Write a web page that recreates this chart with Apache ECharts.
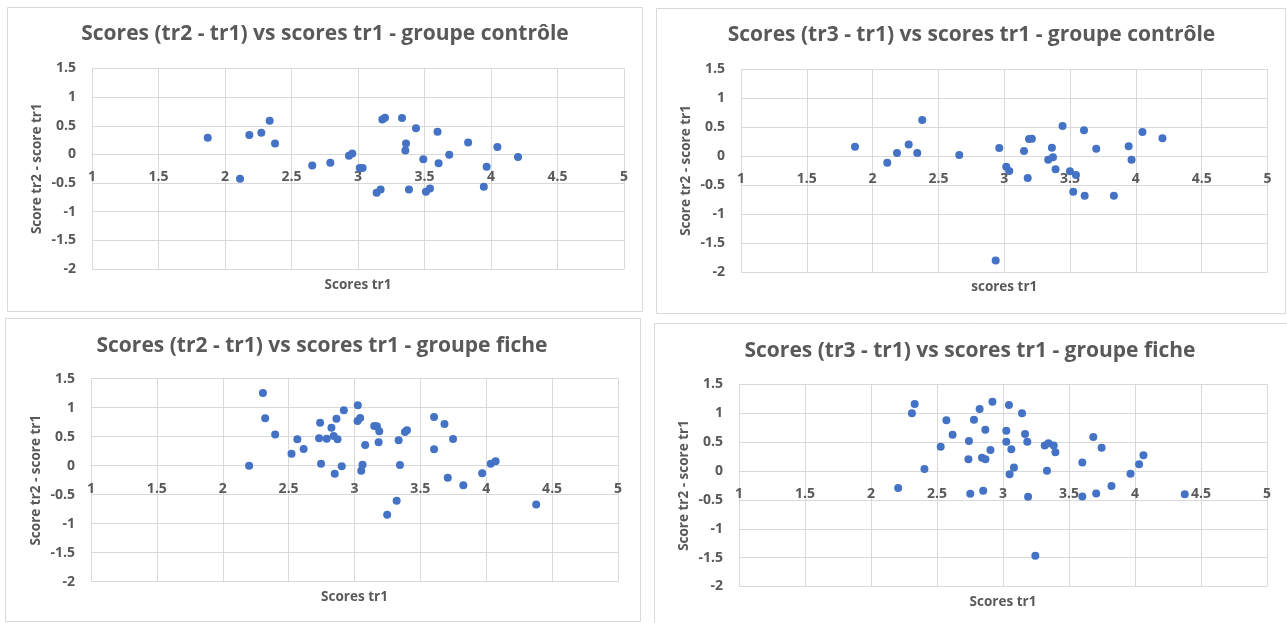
<!DOCTYPE html>
<html>
<head>
<meta charset="utf-8">
<script src="https://cdn.jsdelivr.net/npm/echarts@6/dist/echarts.min.js"></script>
<style>
html,body{margin:0;padding:0;background:#fff;}
#c{width:1287px;height:623px;}
</style>
</head>
<body>
<div id="c"></div>
<script>
// ---- Data ----
const titles = [
  'Scores (tr2 - tr1) vs scores tr1 - groupe contrôle',
  'Scores (tr3 - tr1) vs scores tr1 - groupe contrôle',
  'Scores (tr2 - tr1) vs scores tr1 - groupe fiche',
  'Scores (tr3 - tr1) vs scores tr1 - groupe fiche'
];
const xNames = ['Scores tr1', 'scores tr1', 'Scores tr1', 'Scores tr1'];
const yName = 'Score tr2 - score tr1';
const xTicks = ['1', '1.5', '2', '2.5', '3', '3.5', '4', '4.5', '5'];
const yTicks = ['-2', '-1.5', '-1', '-0.5', '0', '0.5', '1', '1.5'];

// Chart 1: contrôle, tr2 - tr1
const ctrlTr1_a = [1.87, 2.113, 2.183, 2.273, 2.336, 2.376, 2.656, 2.792, 2.932, 2.957, 3.013, 3.035, 3.14, 3.17, 3.183, 3.203, 3.331, 3.356, 3.361, 3.383, 3.436, 3.491, 3.511, 3.541, 3.598, 3.606, 3.686, 3.828, 3.946, 3.967, 4.048, 4.203];
const ctrlDiff21 = [0.29, -0.426, 0.337, 0.377, 0.587, 0.192, -0.192, -0.147, -0.024, 0.017, -0.239, -0.239, -0.67, -0.611, 0.611, 0.639, 0.634, 0.07, 0.192, -0.611, 0.459, -0.082, -0.653, -0.593, 0.394, -0.152, -0.007, 0.21, -0.565, -0.215, 0.129, -0.043];

// Chart 2: contrôle, tr3 - tr1
const ctrlTr1_b = [1.866, 2.111, 2.185, 2.274, 2.339, 2.377, 2.658, 2.935, 2.962, 3.015, 3.038, 3.15, 3.178, 3.188, 3.21, 3.334, 3.362, 3.37, 3.39, 3.443, 3.499, 3.524, 3.545, 3.606, 3.611, 3.699, 3.833, 3.945, 3.967, 4.05, 4.202];
const ctrlDiff31 = [0.16, -0.115, 0.052, 0.2, 0.052, 0.62, 0.017, -1.8, 0.138, -0.184, -0.259, 0.086, -0.379, 0.293, 0.299, -0.064, 0.143, -0.023, -0.23, 0.517, -0.264, -0.615, -0.328, 0.443, -0.684, 0.126, -0.684, 0.169, -0.066, 0.415, 0.306];

// Chart 3: fiche, tr2 - tr1
const ficheTr1_a = [2.2, 2.305, 2.322, 2.398, 2.522, 2.566, 2.614, 2.731, 2.739, 2.746, 2.789, 2.825, 2.842, 2.85, 2.863, 2.871, 2.903, 2.919, 3.023, 3.025, 3.043, 3.051, 3.061, 3.081, 3.15, 3.17, 3.183, 3.188, 3.248, 3.32, 3.335, 3.345, 3.383, 3.398, 3.604, 3.604, 3.683, 3.708, 3.748, 3.826, 3.969, 4.034, 4.071, 4.379];
const ficheDiff21 = [0.0, 1.253, 0.817, 0.54, 0.207, 0.455, 0.288, 0.472, 0.741, 0.034, 0.466, 0.655, 0.512, -0.138, 0.81, 0.455, -0.01, 0.955, 0.771, 1.041, 0.822, -0.086, 0.017, 0.357, 0.684, 0.679, 0.403, 0.593, -0.845, -0.603, 0.437, 0.012, 0.581, 0.61, 0.84, 0.283, 0.718, -0.207, 0.46, -0.339, -0.132, 0.034, 0.075, -0.667];

// Chart 4: fiche, tr3 - tr1
const ficheTr1_b = [2.206, 2.31, 2.331, 2.405, 2.528, 2.571, 2.618, 2.738, 2.742, 2.752, 2.78, 2.823, 2.841, 2.85, 2.867, 2.866, 2.905, 2.92, 3.025, 3.025, 3.045, 3.05, 3.063, 3.083, 3.144, 3.167, 3.184, 3.19, 3.245, 3.316, 3.333, 3.344, 3.384, 3.397, 3.601, 3.601, 3.684, 3.706, 3.747, 3.822, 3.966, 4.031, 4.064, 4.377];
const ficheDiff31 = [-0.293, 1.002, 1.162, 0.034, 0.423, 0.881, 0.629, 0.203, 0.52, -0.393, 0.889, 1.075, 0.231, -0.341, 0.203, 0.716, 0.364, 1.2, 0.699, 0.508, 1.144, -0.057, 0.376, 0.064, 1.0, 0.641, 0.508, -0.445, -1.468, 0.445, 0.005, 0.48, 0.445, 0.324, 0.15, -0.441, 0.589, -0.39, 0.404, -0.258, -0.046, 0.12, 0.275, -0.401];

const seriesX = [ctrlTr1_a, ctrlTr1_b, ficheTr1_a, ficheTr1_b];
const seriesY = [ctrlDiff21, ctrlDiff31, ficheDiff21, ficheDiff31];

// ---- Layout ----
const Y_MIN = -2, Y_MAX = 1.5;
const grids = [
  {left: 92, top: 68.5, width: 532, height: 200.5},
  {left: 741, top: 69, width: 526.5, height: 203},
  {left: 91, top: 378.7, width: 527, height: 203},
  {left: 739, top: 384.5, width: 528, height: 202}
];
const titlePos = [
  {cx: 325, cy: 34.5},
  {cx: 971.5, cy: 35},
  {cx: 322, cy: 345.7},
  {cx: 970, cy: 351}
];
const frames = [
  {x: 7.5, y: 7.5, w: 635, h: 304},
  {x: 656.5, y: 8.5, w: 629, h: 305},
  {x: 5.5, y: 318.5, w: 635, h: 303},
  {x: 654.5, y: 323.5, w: 640, h: 310}
];

const GRAY = '#595959';
const LINE = '#d9d9d9';
const FONT = '"Open Sans", "Noto Sans", sans-serif';
const TFS = 21;

const option = {
  backgroundColor: '#fff',
  animation: false,
  title: titles.map((t, i) => ({
    text: t,
    left: titlePos[i].cx,
    top: titlePos[i].cy - TFS / 2 - 1,
    textAlign: 'center',
    padding: 0,
    textStyle: {color: GRAY, fontSize: TFS, fontWeight: 'bold', fontFamily: FONT, lineHeight: TFS + 2}
  })),
  graphic: frames.map(f => ({
    type: 'rect', z: -10, silent: true,
    shape: {x: f.x, y: f.y, width: f.w, height: f.h},
    style: {fill: 'none', stroke: LINE, lineWidth: 1}
  })),
  grid: grids.map(g => Object.assign({containLabel: false, outerBoundsMode: 'none'}, g)),
  xAxis: grids.map((g, i) => ({
    type: 'value', gridIndex: i, min: 1, max: 5, interval: 0.5,
    position: 'bottom',
    // axis crosses at y = 0 (Excel style): shift from the bottom edge up to zero
    offset: -g.height * (0 - Y_MIN) / (Y_MAX - Y_MIN),
    name: xNames[i], nameLocation: 'middle', nameGap: 124,
    nameTextStyle: {color: GRAY, fontSize: 13.5, fontWeight: 'bold', fontFamily: FONT},
    axisLine: {show: true, onZero: false, lineStyle: {color: LINE, width: 1}},
    axisTick: {show: false},
    splitLine: {show: true, lineStyle: {color: LINE, width: 1}},
    axisLabel: {
      color: GRAY, fontSize: 14, fontWeight: 'bold', fontFamily: FONT, margin: 16,
      formatter: v => xTicks[Math.round((v - 1) / 0.5)]
    }
  })),
  yAxis: grids.map((g, i) => ({
    type: 'value', gridIndex: i, min: Y_MIN, max: Y_MAX, interval: 0.5,
    name: yName, nameLocation: 'middle', nameGap: 48,
    nameTextStyle: {color: GRAY, fontSize: 13.5, fontWeight: 'bold', fontFamily: FONT},
    axisLine: {show: false},
    axisTick: {show: false},
    splitLine: {show: true, lineStyle: {color: LINE, width: 1}},
    axisLabel: {
      color: GRAY, fontSize: 14, fontWeight: 'bold', fontFamily: FONT, margin: 16,
      formatter: v => yTicks[Math.round((v - Y_MIN) / 0.5)]
    }
  })),
  series: seriesX.map((xs, i) => ({
    type: 'scatter', xAxisIndex: i, yAxisIndex: i,
    symbol: 'circle', symbolSize: 8,
    itemStyle: {color: '#4472C4', opacity: 1},
    data: xs.map((x, k) => [x, seriesY[i][k]])
  }))
};

const chart = echarts.init(document.getElementById('c'), null, {renderer: 'canvas'});
chart.setOption(option);
</script>
</body>
</html>
